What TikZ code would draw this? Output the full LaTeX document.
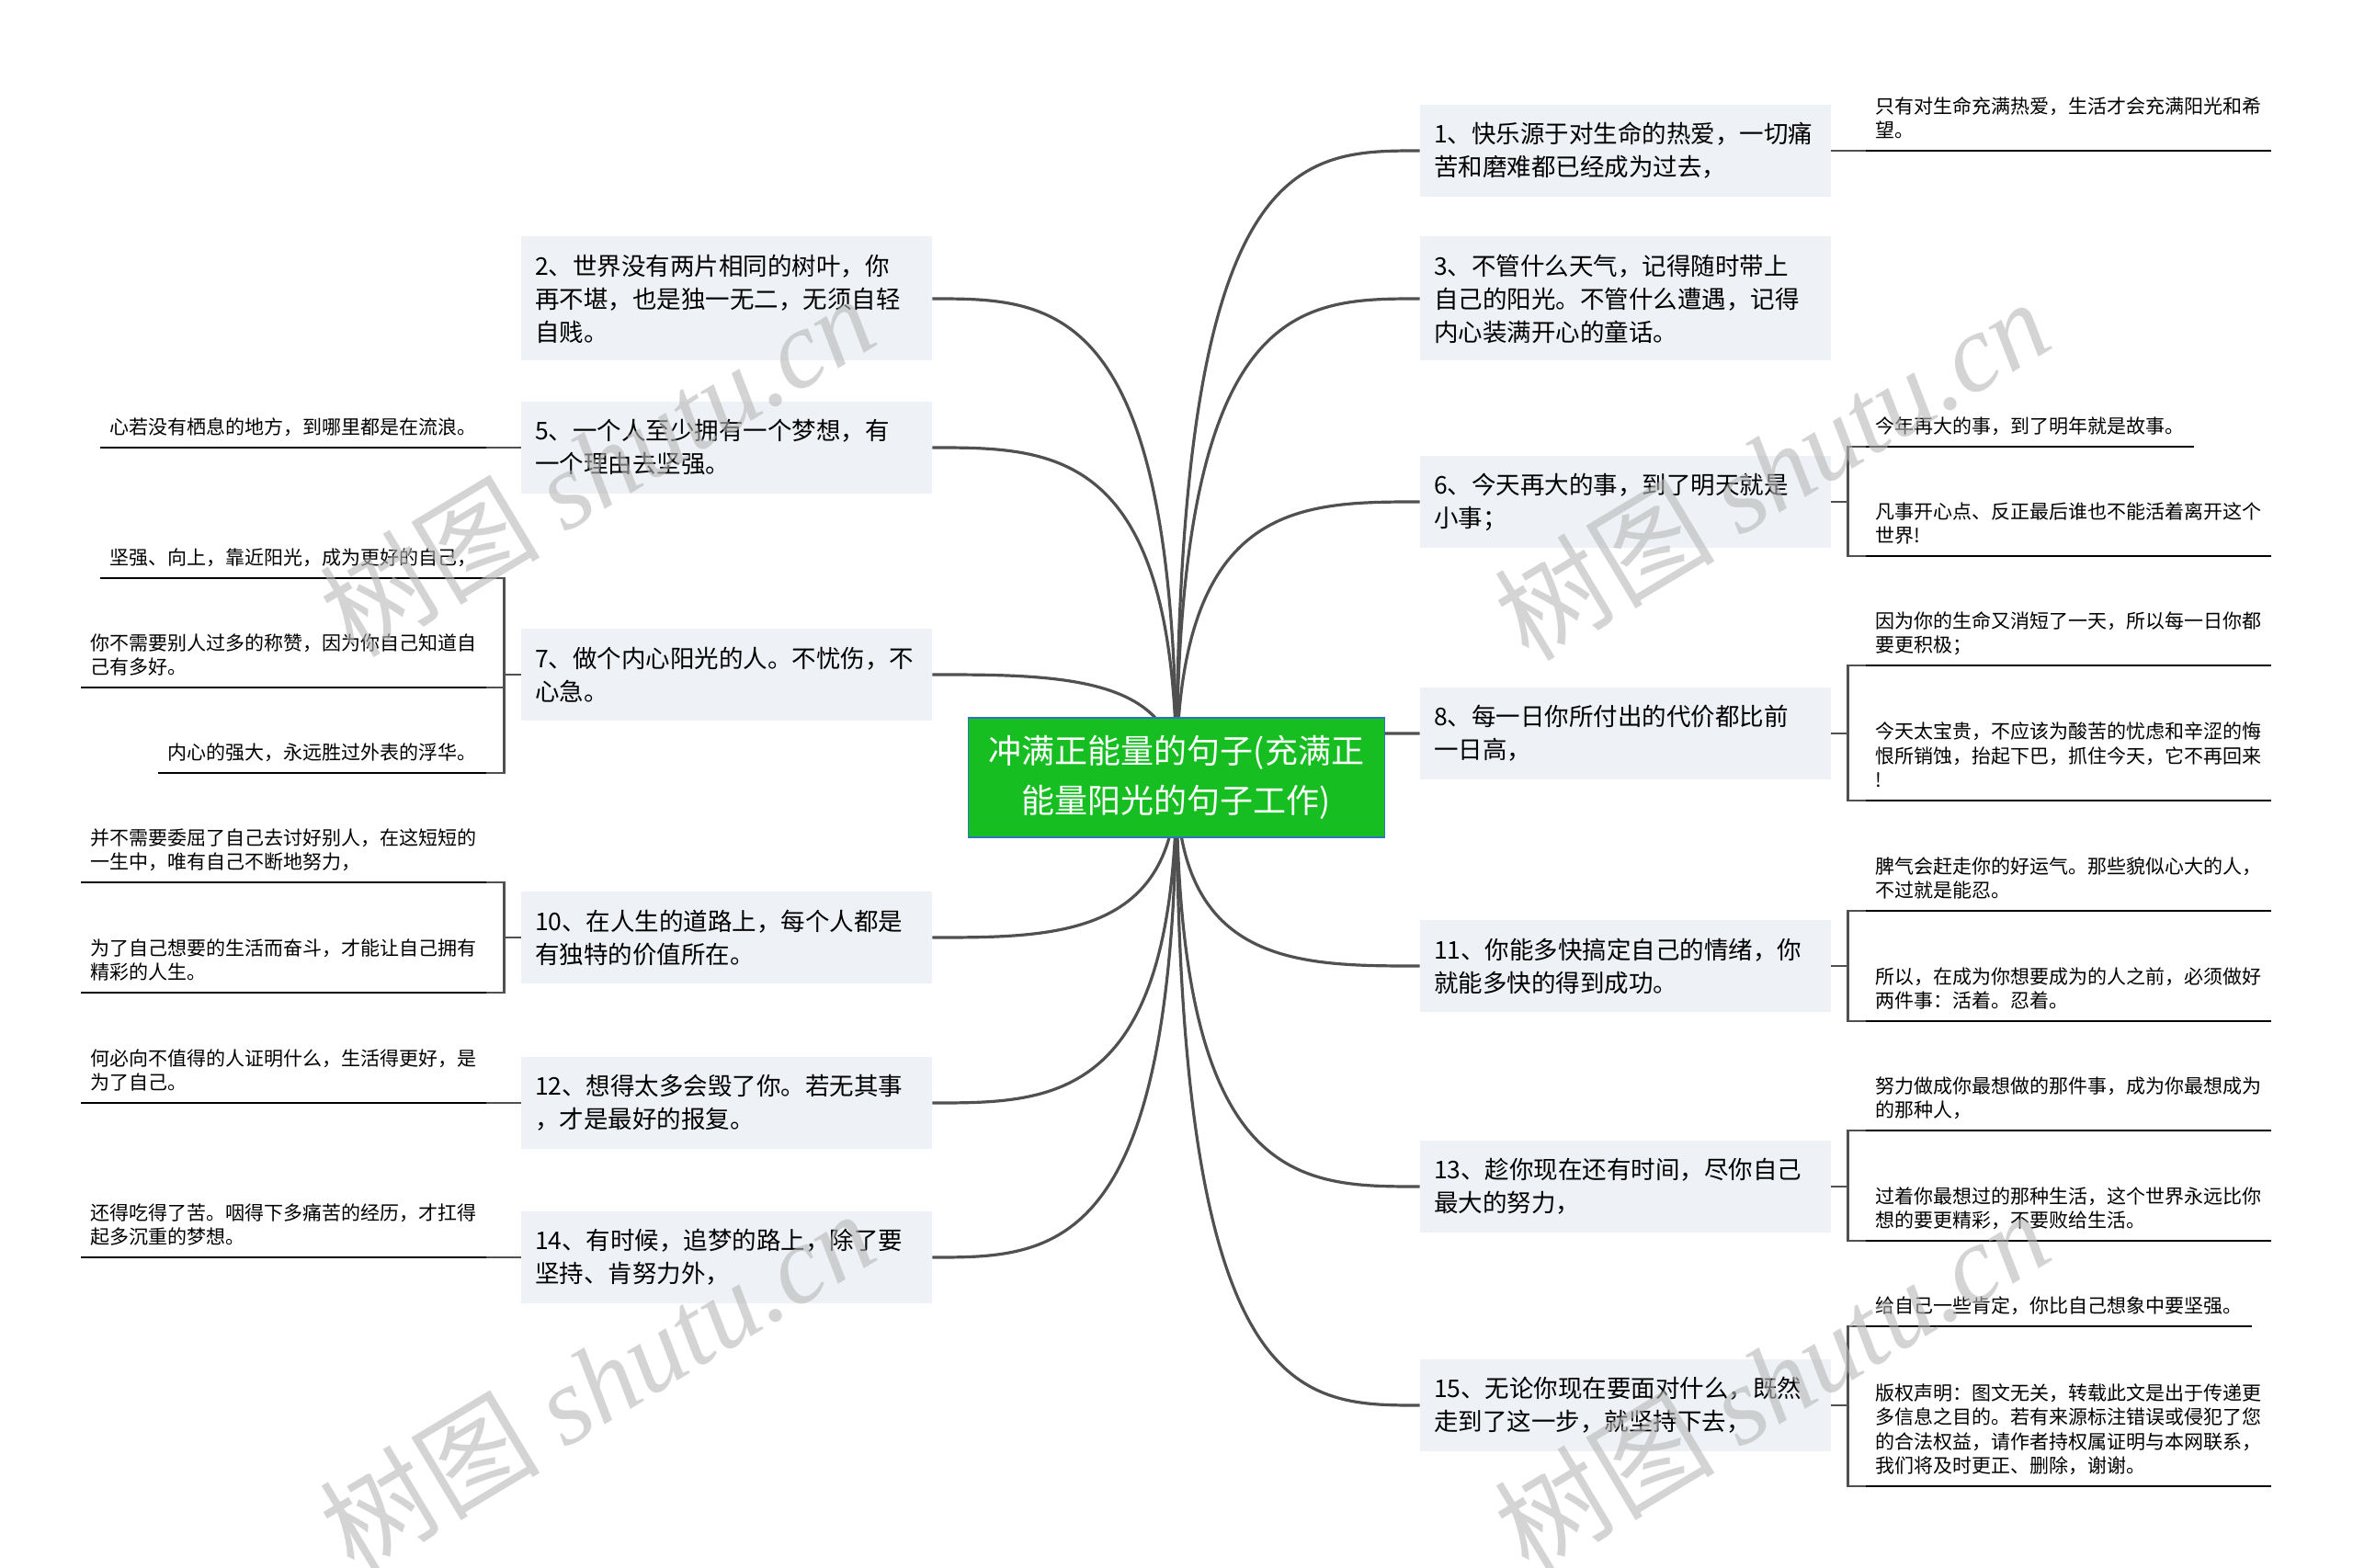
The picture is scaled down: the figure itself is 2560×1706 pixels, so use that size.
\documentclass[tikz,border=0pt]{standalone}
\usepackage{fontspec}
\setmainfont{Noto Sans CJK SC}
\newfontfamily\wmlatin{Liberation Serif}
\usetikzlibrary{calc,backgrounds}
\definecolor{curvec}{HTML}{505050}
\definecolor{boxfill}{HTML}{EEF1F5}
\definecolor{centerfill}{HTML}{16BE22}
\definecolor{centerborder}{HTML}{2F74C0}
\definecolor{wm}{HTML}{B8B8B8}
\tikzset{
  mainbox/.style={fill=boxfill, rectangle, text width=208.5pt, inner xsep=7.5pt, inner ysep=0pt,
    align=left, font=\fontsize{13.25pt}{18pt}\selectfont, minimum height=50pt},
  mainboxthree/.style={mainbox, minimum height=67.5pt},
  centerbox/.style={fill=centerfill, draw=centerborder, line width=0.8pt, minimum width=226.5pt,
    minimum height=65pt, inner sep=0pt, align=center, text=white, font=\fontsize{18pt}{27pt}\selectfont},
  leafnode/.style={inner xsep=5pt, inner ysep=3pt, text depth=4pt, align=left,
    font=\fontsize{10.5pt}{13.25pt}\selectfont},
  leafline/.style={draw=black, line width=1.4pt},
  curve/.style={draw=curvec, line width=1.6pt},
  stub/.style={draw=curvec, line width=1.4pt},
  bracket/.style={draw=curvec, line width=1.3pt},
  wmark/.style={rotate=31, text=wm, text opacity=0.6, font=\fontsize{60pt}{60pt}\selectfont, inner sep=0pt}
}
\begin{document}
\begin{tikzpicture}[x=0.5pt, y=-0.5pt]
\useasboundingbox (0,0) rectangle (2560,1706);

% center
\node[centerbox] (C) at (1280,846) {冲满正能量的句子(充满正\\能量阳光的句子工作)};

% right main nodes
\node[mainbox] (n1) at (1768.5,164) {1、快乐源于对生命的热爱，一切痛\\苦和磨难都已经成为过去，};
\node[mainboxthree] (n3) at (1768.5,325) {3、不管什么天气，记得随时带上\\自己的阳光。不管什么遭遇，记得\\内心装满开心的童话。};
\node[mainbox] (n6) at (1768.5,546) {6、今天再大的事，到了明天就是\\小事；};
\node[mainbox] (n8) at (1768.5,798) {8、每一日你所付出的代价都比前\\一日高，};
\node[mainbox] (n11) at (1768.5,1051) {11、你能多快搞定自己的情绪，你\\就能多快的得到成功。};
\node[mainbox] (n13) at (1768.5,1291) {13、趁你现在还有时间，尽你自己\\最大的努力，};
\node[mainbox] (n15) at (1768.5,1529) {15、无论你现在要面对什么，既然\\走到了这一步，就坚持下去，};

% left main nodes
\node[mainboxthree] (n2) at (790.5,325) {2、世界没有两片相同的树叶，你\\再不堪，也是独一无二，无须自轻\\自贱。};
\node[mainbox] (n5) at (790.5,487) {5、一个人至少拥有一个梦想，有\\一个理由去坚强。};
\node[mainbox] (n7) at (790.5,734) {7、做个内心阳光的人。不忧伤，不\\心急。};
\node[mainbox] (n10) at (790.5,1020) {10、在人生的道路上，每个人都是\\有独特的价值所在。};
\node[mainbox] (n12) at (790.5,1200) {12、想得太多会毁了你。若无其事\\，才是最好的报复。};
\node[mainbox] (n14) at (790.5,1368) {14、有时候，追梦的路上，除了要\\坚持、肯努力外，};

% right leaves
\node[leafnode, anchor=south west] (r1) at (2030,164) {只有对生命充满热爱，生活才会充满阳光和希\\望。};
\node[leafnode, anchor=south west] (r6a) at (2030,486) {今年再大的事，到了明年就是故事。};
\node[leafnode, anchor=south west] (r6b) at (2030,605) {凡事开心点、反正最后谁也不能活着离开这个\\世界!};
\node[leafnode, anchor=south west] (r8a) at (2030,724) {因为你的生命又消短了一天，所以每一日你都\\要更积极；};
\node[leafnode, anchor=south west] (r8b) at (2030,871) {今天太宝贵，不应该为酸苦的忧虑和辛涩的悔\\恨所销蚀，抬起下巴，抓住今天，它不再回来\\!};
\node[leafnode, anchor=south west] (r11a) at (2030,991) {脾气会赶走你的好运气。那些貌似心大的人，\\不过就是能忍。};
\node[leafnode, anchor=south west] (r11b) at (2030,1111) {所以，在成为你想要成为的人之前，必须做好\\两件事：活着。忍着。};
\node[leafnode, anchor=south west] (r13a) at (2030,1230) {努力做成你最想做的那件事，成为你最想成为\\的那种人，};
\node[leafnode, anchor=south west] (r13b) at (2030,1350) {过着你最想过的那种生活，这个世界永远比你\\想的要更精彩，不要败给生活。};
\node[leafnode, anchor=south west] (r15a) at (2030,1443) {给自己一些肯定，你比自己想象中要坚强。};
\node[leafnode, anchor=south west] (r15b) at (2030,1617) {版权声明：图文无关，转载此文是出于传递更\\多信息之目的。若有来源标注错误或侵犯了您\\的合法权益，请作者持权属证明与本网联系，\\我们将及时更正、删除，谢谢。};

% left leaves
\node[leafnode, anchor=south east] (l5) at (529,487) {心若没有栖息的地方，到哪里都是在流浪。};
\node[leafnode, anchor=south east] (l7a) at (529,629) {坚强、向上，靠近阳光，成为更好的自己，};
\node[leafnode, anchor=south east] (l7b) at (529,748) {你不需要别人过多的称赞，因为你自己知道自\\己有多好。};
\node[leafnode, anchor=south east] (l7c) at (529,841) {内心的强大，永远胜过外表的浮华。};
\node[leafnode, anchor=south east] (l10a) at (529,960) {并不需要委屈了自己去讨好别人，在这短短的\\一生中，唯有自己不断地努力，};
\node[leafnode, anchor=south east] (l10b) at (529,1080) {为了自己想要的生活而奋斗，才能让自己拥有\\精彩的人生。};
\node[leafnode, anchor=south east] (l12) at (529,1200) {何必向不值得的人证明什么，生活得更好，是\\为了自己。};
\node[leafnode, anchor=south east] (l14) at (529,1368) {还得吃得了苦。咽得下多痛苦的经历，才扛得\\起多沉重的梦想。};

% leaf underlines
\foreach \n in {r1,r6a,r6b,r8a,r8b,r11a,r11b,r13a,r13b,r15a,r15b,l5,l7a,l7b,l7c,l10a,l10b,l12,l14}
  \draw[leafline] (\n.south west) -- (\n.south east);

% single-leaf stubs
\draw[stub] (n1.east) -- (r1.south west);
\draw[stub] (n5.west) -- (l5.south east);
\draw[stub] (n12.west) -- (l12.south east);
\draw[stub] (n14.west) -- (l14.south east);

% right brackets
\foreach \p/\a/\b in {n6/r6a/r6b, n8/r8a/r8b, n11/r11a/r11b, n13/r13a/r13b, n15/r15a/r15b}{
  \draw[stub] (\p.east) -- ++(18,0) coordinate (b\p);
  \draw[bracket] (b\p) |- (\a.south west);
  \draw[bracket] (b\p) |- (\b.south west);
}
% left brackets
\draw[stub] (n7.west) -- ++(-18,0) coordinate (bn7);
\draw[bracket] (bn7) |- (l7a.south east);
\draw[bracket] (bn7) |- (l7b.south east);
\draw[bracket] (bn7) |- (l7c.south east);
\draw[stub] (n10.west) -- ++(-18,0) coordinate (bn10);
\draw[bracket] (bn10) |- (l10a.south east);
\draw[bracket] (bn10) |- (l10b.south east);

\begin{pgfonlayer}{background}
  \fill[white] (0,0) rectangle (2560,1706);
  \foreach \t in {n1,n3,n6,n8,n11,n13,n15}
    \draw[curve] (C.center) .. controls (C.center |- \t.west) and ($(C.center |- \t.west)!0.5!(\t.west)$) .. (\t.west);
  \foreach \t in {n2,n5,n7,n10,n12,n14}
    \draw[curve] (C.center) .. controls (C.center |- \t.east) and ($(C.center |- \t.east)!0.5!(\t.east)$) .. (\t.east);
\end{pgfonlayer}

% watermarks
\node[wmark] (w1) at (649,506) {树图 {\wmlatin\itshape shutu.cn}};
\node[wmark] (w2) at (1927,510) {树图 {\wmlatin\itshape shutu.cn}};
\node[wmark] (w3) at (649,1502) {树图 {\wmlatin\itshape shutu.cn}};
\node[wmark] (w4) at (1927,1502) {树图 {\wmlatin\itshape shutu.cn}};
\end{tikzpicture}
\end{document}
